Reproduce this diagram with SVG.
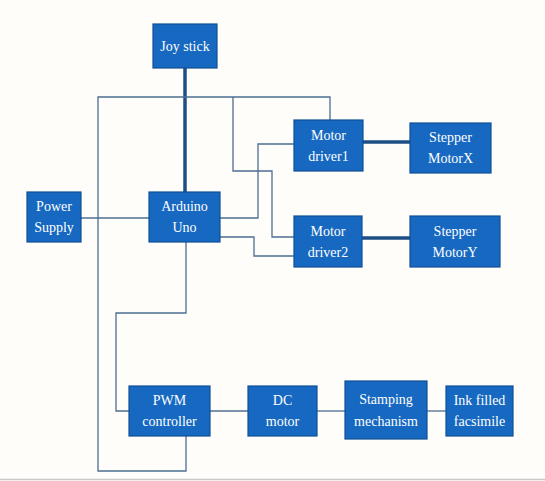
<svg xmlns="http://www.w3.org/2000/svg" width="545" height="481" viewBox="0 0 545 481">
<style>
.box{fill:#1668c0;stroke:#0f4f96;stroke-width:1.2}
.t{fill:#ffffff;font-family:"Liberation Serif","DejaVu Serif",serif;font-size:14px;text-anchor:middle}
.w{fill:none;stroke:#4d6f92;stroke-width:1.3}
.k{fill:none;stroke:#1d4f86;stroke-width:3.5}
</style>
<rect width="545" height="481" fill="#fffdfa"/>
<line x1="0" y1="479.5" x2="545" y2="479.5" stroke="#c8c8c8" stroke-width="1.5"/>
<g id="connectors">
<path class="k" d="M185 68 V192"/>
<path class="k" d="M363 142 H410"/>
<path class="k" d="M362 238 H410"/>
<path class="w" d="M330 120 V97 H98 V471 H186 V436"/>
<path class="w" d="M233 97 V171 H272 V237 H294"/>
<path class="w" d="M220 218 H258 V144 H294"/>
<path class="w" d="M220 237 H254 V256 H294"/>
<path class="w" d="M81 218 H149"/>
<path class="w" d="M186 242 V313 H116 V411 H129"/>
<path class="w" d="M210 411 H248"/>
<path class="w" d="M317 411 H345"/>
<path class="w" d="M427 411 H446"/>
</g>
<g id="joystick"><rect class="box" x="153" y="24" width="64" height="44"/><text class="t" x="185" y="51">Joy stick</text></g>
<g id="motordriver1"><rect class="box" x="294" y="120" width="69" height="51"/><text class="t" x="328.5" y="140">Motor</text><text class="t" x="328.5" y="161">driver1</text></g>
<g id="steppermotorx"><rect class="box" x="410" y="123" width="81" height="50"/><text class="t" x="450.5" y="142">Stepper</text><text class="t" x="450.5" y="163">MotorX</text></g>
<g id="powersupply"><rect class="box" x="27" y="192" width="54" height="50"/><text class="t" x="54" y="211">Power</text><text class="t" x="54" y="232">Supply</text></g>
<g id="arduinouno"><rect class="box" x="149" y="192" width="71" height="50"/><text class="t" x="184.5" y="211">Arduino</text><text class="t" x="184.5" y="232">Uno</text></g>
<g id="motordriver2"><rect class="box" x="294" y="216" width="68" height="51"/><text class="t" x="328" y="236">Motor</text><text class="t" x="328" y="257">driver2</text></g>
<g id="steppermotory"><rect class="box" x="410" y="216" width="90" height="51"/><text class="t" x="455" y="236">Stepper</text><text class="t" x="455" y="257">MotorY</text></g>
<g id="pwmcontroller"><rect class="box" x="129" y="386" width="81" height="50"/><text class="t" x="169.5" y="405">PWM</text><text class="t" x="169.5" y="426">controller</text></g>
<g id="dcmotor"><rect class="box" x="248" y="386" width="69" height="50"/><text class="t" x="282.5" y="405">DC</text><text class="t" x="282.5" y="426">motor</text></g>
<g id="stamping"><rect class="box" x="345" y="381" width="82" height="58"/><text class="t" x="386" y="404">Stamping</text><text class="t" x="386" y="426">mechanism</text></g>
<g id="inkfilled"><rect class="box" x="446" y="386" width="67" height="50"/><text class="t" x="479.5" y="405">Ink filled</text><text class="t" x="479.5" y="426">facsimile</text></g>
</svg>
